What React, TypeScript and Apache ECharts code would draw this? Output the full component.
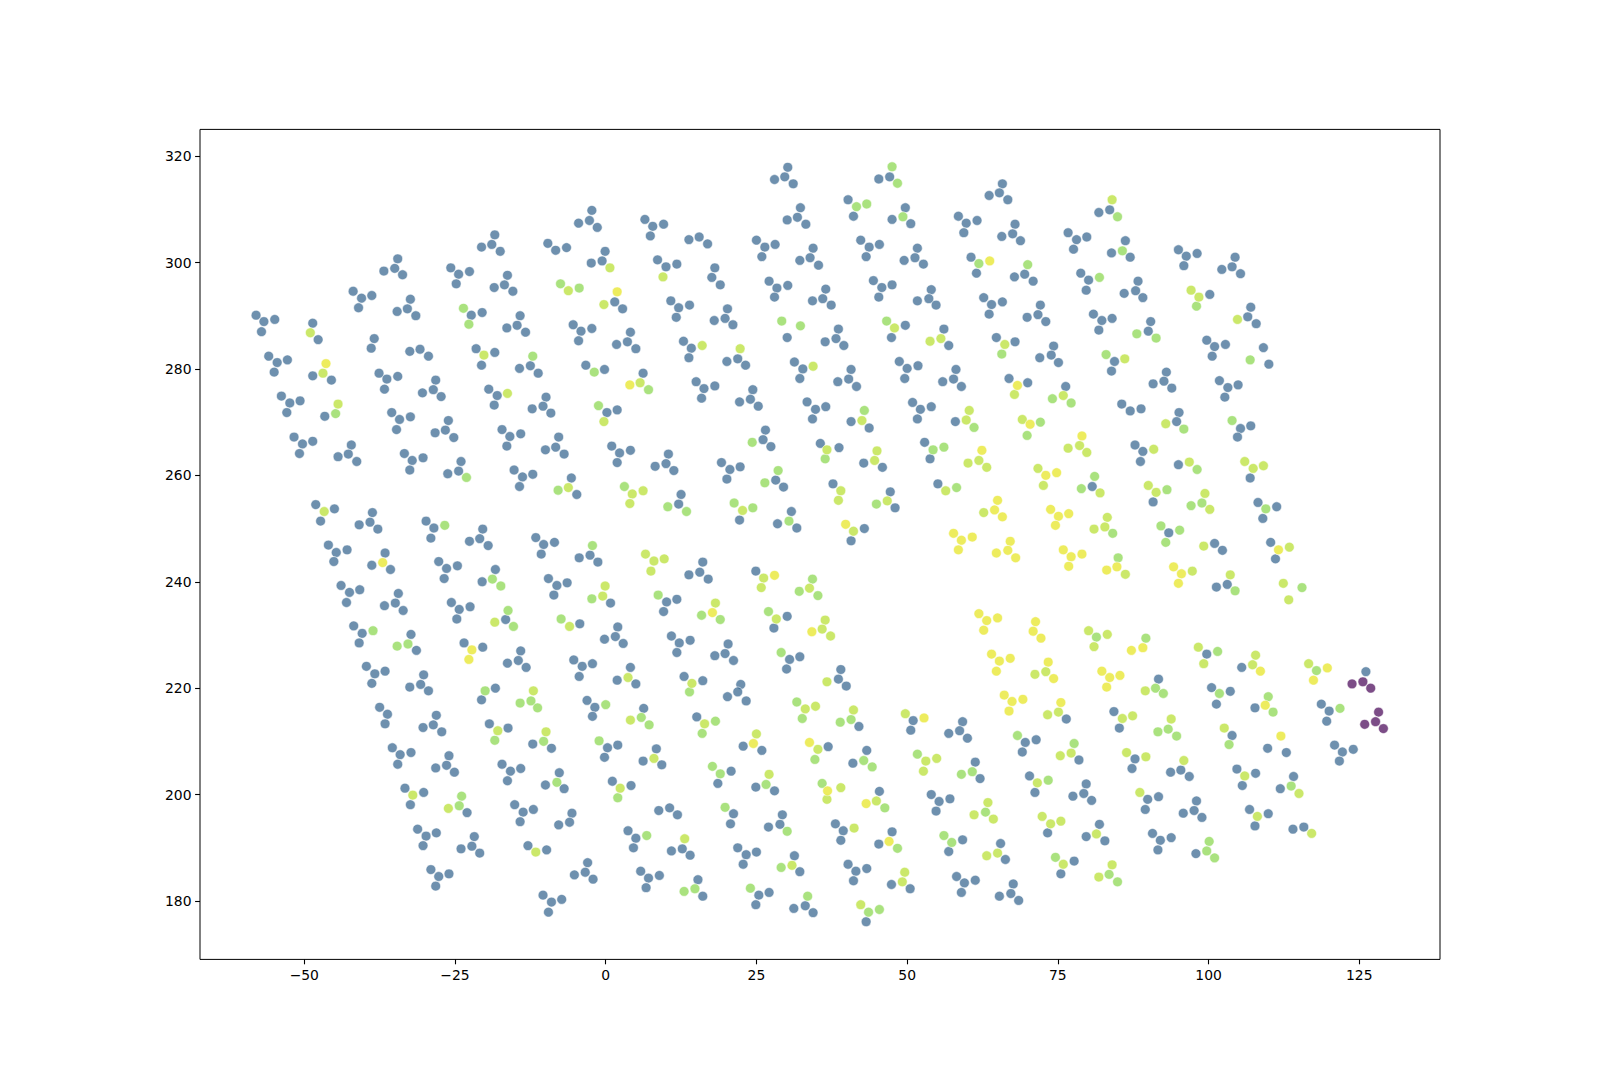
import React, { useEffect, useRef } from "react";
import * as echarts from "echarts";

const xTicks = [-50, -25, 0, 25, 50, 75, 100, 125];
const yTicks = [180, 200, 220, 240, 260, 280, 300, 320];

const bluePoints: number[][] = [
  [-18.4,305.2],[-18.9,303.4],[-20.6,302.9],[-17.5,302.1],
  [-34.5,300.7],[-35.0,298.9],[-36.8,298.4],[-33.7,297.7],
  [-25.7,299.0],[-24.4,297.8],[-22.6,298.3],[-24.8,296.0],
  [-16.3,297.6],[-16.8,295.8],[-18.5,295.3],[-15.4,294.6],
  [-41.9,294.6],[-40.5,293.3],[-38.8,293.8],[-41.0,291.5],
  [-32.4,293.1],[-32.9,291.3],[-34.6,290.8],[-31.5,290.0],
  [-22.3,290.1],[-20.5,290.6],
  [-14.2,290.0],[-14.7,288.2],[-16.4,287.7],[-13.3,286.9],
  [-58.0,290.1],[-56.7,288.9],[-54.9,289.3],[-57.1,287.0],
  [-48.6,288.6],[-47.7,285.5],
  [-38.4,285.7],[-38.9,283.9],
  [-32.5,283.3],[-30.8,283.7],[-29.4,282.4],
  [-21.5,283.8],[-18.4,283.1],[-20.6,280.7],
  [-12.5,280.6],[-14.3,280.1],[-11.2,279.2],
  [-55.9,282.4],[-54.5,281.2],[-52.8,281.7],[-55.0,279.4],
  [-48.6,278.7],[-45.5,277.9],
  [-37.6,279.2],[-36.3,278.1],[-34.5,278.6],[-36.7,276.2],
  [-28.2,277.9],[-28.6,276.1],[-30.4,275.5],[-27.3,274.8],
  [-19.4,276.2],[-18.0,275.0],[-18.5,273.2],
  [-53.8,274.9],[-52.4,273.6],[-50.7,274.0],[-52.9,271.8],
  [-46.6,271.1],
  [-35.5,271.8],[-34.2,270.5],[-32.4,271.0],
  [-26.1,270.3],
  [-12.2,272.5],
  [30.2,317.9],[29.7,316.1],[28.0,315.6],[31.1,314.8],
  [-2.3,309.8],[-2.7,307.9],[-4.5,307.4],[-1.4,306.6],
  [6.5,308.1],[7.8,306.8],[9.6,307.2],[7.4,305.0],
  [32.3,310.3],[31.8,308.5],[30.1,308.0],[33.2,307.2],
  [-9.6,303.6],[-8.3,302.3],[-6.5,302.8],
  [13.8,304.3],[15.5,304.8],[16.9,303.5],
  [25.0,304.2],[26.4,302.9],[28.1,303.4],[25.9,301.1],
  [-0.1,302.1],[-0.6,300.3],[-2.4,299.9],
  [8.6,300.5],[10.0,299.2],[11.8,299.7],
  [18.1,299.0],[17.6,297.2],[19.0,295.8],
  [34.4,302.7],[33.9,300.9],[32.2,300.4],[35.3,299.5],
  [1.5,292.6],[2.8,291.3],
  [27.1,296.5],[28.4,295.2],[30.2,295.7],[28.0,293.5],
  [36.5,295.0],[36.0,293.2],[34.3,292.8],
  [10.8,292.8],[12.1,291.5],[13.9,292.0],[11.7,289.7],
  [20.2,291.3],[19.8,289.5],[18.0,289.1],[21.1,288.3],
  [-5.4,288.3],[-4.1,287.1],[-2.3,287.6],[-4.5,285.3],
  [4.1,286.9],[3.6,285.1],[1.8,284.6],[5.0,283.8],
  [12.9,285.2],[14.2,283.9],[13.8,282.1],
  [21.9,281.9],[20.1,281.4],[23.2,280.7],
  [30.1,285.9],
  [31.3,281.3],[32.7,280.0],[32.2,278.2],
  [36.4,285.1],
  [-3.3,280.7],[-0.2,279.9],
  [6.2,279.2],
  [15.0,277.6],[16.3,276.3],[18.1,276.8],[15.9,274.5],
  [24.4,276.1],[24.0,274.3],[22.2,273.8],[25.3,273.0],
  [-9.9,274.7],[-10.4,273.0],[-9.1,271.7],
  [0.2,271.8],[1.9,272.3],
  [33.4,273.8],[34.8,272.4],[36.5,272.9],[34.3,270.6],
  [47.1,316.1],[45.3,315.7],
  [40.2,311.8],[41.1,308.7],
  [49.7,310.3],[47.5,308.1],[50.6,307.3],
  [65.8,314.8],[65.3,313.1],[63.6,312.6],[66.7,311.8],
  [83.6,309.9],[81.8,309.4],
  [58.5,308.7],[59.8,307.4],[61.6,307.9],[59.4,305.6],
  [67.9,307.2],[67.5,305.4],[65.7,304.9],[68.8,304.1],
  [76.7,305.6],[78.1,304.3],[79.8,304.8],[77.6,302.5],
  [83.9,301.8],
  [42.3,304.2],[43.7,302.9],[45.4,303.4],[43.2,301.1],
  [51.7,302.7],[51.3,300.9],[49.5,300.4],[52.7,299.7],
  [60.6,301.0],[61.5,298.0],
  [69.5,297.8],[67.8,297.3],[70.9,296.5],
  [78.8,298.0],[80.1,296.7],[79.7,294.8],
  [44.4,296.6],[45.8,295.3],[47.5,295.8],[45.3,293.5],
  [54.0,294.9],[53.6,293.2],[51.7,292.8],[54.8,292.0],
  [37.4,292.0],
  [62.7,293.4],[64.0,292.1],[65.8,292.6],[63.6,290.3],
  [72.1,292.0],[71.7,290.2],[69.9,289.7],[73.0,288.9],
  [80.9,290.3],[82.3,289.1],[84.0,289.5],[81.8,287.3],
  [49.7,288.2],[47.4,285.9],
  [56.1,287.5],[56.9,284.4],
  [38.6,287.5],[38.2,285.7],[39.5,284.4],
  [64.8,285.9],[67.9,285.1],
  [74.3,284.3],[73.9,282.6],[72.0,282.1],[75.1,281.2],
  [84.4,281.4],[83.9,279.6],
  [40.7,279.9],[40.3,278.1],[38.5,277.6],[41.6,276.7],
  [48.7,281.4],[50.0,280.1],[51.8,280.6],[49.6,278.2],
  [58.1,279.9],[57.7,278.1],[55.9,277.6],[59.0,276.7],
  [66.9,278.2],[70.0,277.4],
  [76.3,276.7],
  [50.9,273.7],[52.2,272.4],[54.0,272.9],[51.7,270.6],
  [40.7,270.1],
  [58.0,270.1],
  [86.2,304.1],[87.0,301.0],
  [95.0,302.4],[96.3,301.2],[98.1,301.7],[95.9,299.4],
  [104.4,301.0],[103.9,299.2],[102.2,298.7],[105.3,297.9],
  [88.3,296.5],[87.9,294.7],[86.0,294.2],[89.1,293.4],
  [100.2,294.0],
  [107.0,291.6],[106.5,289.8],[107.9,288.5],
  [90.4,288.9],[90.0,287.1],
  [99.7,285.4],[101.0,284.2],[102.8,284.6],[100.6,282.4],
  [109.1,284.0],[110.0,280.9],
  [93.0,279.4],[92.6,277.7],[90.8,277.2],[93.9,276.4],
  [101.8,277.8],[103.2,276.5],[104.9,277.0],[102.7,274.7],
  [85.6,273.4],[87.0,272.1],[88.8,272.5],
  [95.1,271.8],[94.7,270.1],
  [-34.7,268.6],
  [-28.3,268.0],[-26.6,268.5],[-25.2,267.1],
  [-17.2,268.6],[-15.9,267.3],[-14.1,267.8],[-16.4,265.5],
  [-51.7,267.2],[-50.3,265.9],[-48.6,266.4],[-50.8,264.1],
  [-42.2,265.7],[-42.7,264.0],[-44.4,263.5],[-41.3,262.6],
  [-33.4,264.1],[-32.1,262.8],[-30.3,263.3],[-32.5,261.0],
  [-24.0,262.6],[-24.4,260.8],[-26.2,260.3],
  [-15.2,261.0],[-13.8,259.7],[-12.1,260.2],[-14.3,257.9],
  [-48.1,254.5],[-45.0,253.7],[-47.3,251.4],
  [-38.7,253.0],[-39.1,251.2],[-40.9,250.7],[-37.8,249.9],
  [-29.8,251.4],[-28.5,250.1],[-29.0,248.2],
  [-20.4,249.9],[-20.9,248.1],[-22.6,247.6],[-19.5,246.8],
  [-11.6,248.3],
  [-46.0,246.9],[-44.7,245.5],[-42.9,246.0],[-45.1,243.8],
  [-36.6,245.4],[-38.8,243.1],[-35.7,242.3],
  [-27.7,243.8],[-26.4,242.5],[-24.6,243.0],[-26.8,240.6],
  [-18.3,242.3],[-20.5,240.0],
  [-43.9,239.3],[-42.5,238.0],[-40.8,238.5],[-43.0,236.1],
  [-34.4,237.8],[-34.9,236.0],[-36.7,235.5],[-33.6,234.6],
  [-25.6,236.1],[-24.3,234.8],[-22.5,235.3],[-24.7,233.0],
  [-16.6,232.9],
  [-41.8,231.7],[-40.4,230.3],[-40.9,228.5],
  [-32.3,230.1],[-31.4,227.1],
  [-23.5,228.5],[-20.4,227.7],
  [-14.1,227.0],[-14.5,225.2],[-16.3,224.7],[-13.2,223.9],
  [-39.7,224.1],[-38.3,222.7],[-36.6,223.2],[-38.8,220.9],
  [-30.2,222.5],[-30.7,220.7],[-32.5,220.2],[-29.4,219.5],
  [-18.3,220.0],
  [-7.8,267.2],[-8.3,265.3],[-10.0,264.8],[-6.9,264.0],
  [1.0,265.5],[2.3,264.2],[4.1,264.7],[1.9,262.4],
  [10.4,264.0],[10.0,262.2],[8.2,261.7],[11.3,260.9],
  [19.2,262.4],[20.6,261.1],[22.3,261.6],[20.1,259.3],
  [26.5,268.5],[26.1,266.7],[27.4,265.4],
  [35.6,266.0],
  [-5.7,259.5],[-4.8,256.4],
  [12.5,256.4],[12.1,254.6],
  [28.2,259.1],[29.5,257.8],
  [22.2,251.6],
  [30.8,253.2],[28.5,250.9],[31.7,250.1],
  [-10.3,247.0],[-8.5,247.4],[-10.7,245.2],
  [-2.6,245.0],[-4.4,244.5],[-1.3,243.7],
  [16.1,243.7],[15.6,241.8],[13.8,241.3],[17.0,240.5],
  [24.9,242.0],
  [-9.5,240.6],[-8.1,239.3],[-6.4,239.8],[-8.6,237.5],
  [0.8,236.0],
  [10.1,236.2],[11.8,236.7],[9.6,234.4],
  [30.1,233.5],[27.9,231.3],
  [-4.3,232.1],
  [2.0,231.5],[1.6,229.7],[-0.2,229.2],[2.9,228.4],
  [10.9,229.8],[12.2,228.5],[14.0,229.0],[11.8,226.7],
  [20.3,228.3],[19.8,226.5],[18.1,226.1],[21.2,225.2],
  [30.5,225.4],[32.2,225.9],[30.0,223.6],
  [-5.3,225.3],[-3.9,224.1],[-2.2,224.6],[-4.4,222.2],
  [4.1,223.9],[1.9,221.5],[5.0,220.8],
  [13.0,222.2],[16.1,221.4],
  [22.4,220.7],[21.9,219.3],
  [43.7,268.9],
  [38.7,265.2],
  [42.8,262.3],[45.9,261.5],
  [52.9,266.2],[53.8,263.1],
  [37.7,258.4],
  [47.2,256.9],[48.0,253.9],
  [55.1,258.4],
  [80.7,257.9],
  [42.9,250.0],[40.7,247.7],
  [39.0,223.5],[38.6,221.7],[39.9,220.4],
  [105.3,268.8],[107.0,269.3],[104.8,267.2],
  [87.8,265.7],[89.1,264.5],[88.7,262.6],
  [95.0,262.0],
  [106.9,259.5],
  [90.8,255.0],
  [108.2,254.9],[111.3,254.1],[109.0,251.9],
  [93.4,249.2],
  [101.0,247.2],[102.3,245.9],
  [110.3,247.4],[111.1,244.3],
  [103.1,239.5],[101.3,239.0],
  [99.7,226.4],
  [105.5,223.9],
  [126.1,223.1],
  [91.7,221.7],
  [100.5,220.1],[103.6,219.4],
  [-20.6,217.8],
  [-37.5,216.4],[-36.2,215.1],[-36.6,213.3],
  [-28.1,214.9],[-28.6,213.1],[-30.3,212.6],[-27.2,211.8],
  [-19.3,213.3],[-16.2,212.5],
  [-12.1,209.5],
  [-35.4,208.8],[-34.1,207.5],[-32.3,207.9],[-34.5,205.7],
  [-26.0,207.3],[-26.4,205.5],[-28.2,205.0],[-25.1,204.2],
  [-17.2,205.7],[-15.8,204.4],[-14.1,204.9],[-16.3,202.6],
  [-33.3,201.2],[-30.2,200.4],[-32.4,198.1],
  [-23.0,196.6],
  [-15.1,198.1],[-13.7,196.7],[-12.0,197.2],[-14.2,194.9],
  [-31.2,193.5],[-29.8,192.2],[-28.1,192.8],[-30.3,190.4],
  [-21.8,192.1],[-22.2,190.3],[-24.0,189.8],[-20.9,189.0],
  [-12.9,190.4],
  [-29.0,185.9],[-27.7,184.6],[-26.0,185.1],[-28.2,182.8],
  [-3.1,217.7],[-1.8,216.4],[-2.2,214.7],
  [6.3,216.2],
  [15.1,214.6],
  [20.2,218.4],[23.3,217.6],
  [-9.0,208.7],
  [0.3,208.8],[2.0,209.3],[-0.2,207.0],
  [8.4,208.6],[6.2,206.3],[9.3,205.6],
  [22.8,209.1],[25.9,208.3],
  [36.9,209.0],
  [-7.7,204.1],[-10.0,201.8],[-6.9,201.1],
  [1.1,202.5],[4.2,201.7],
  [20.8,204.4],[18.6,202.1],
  [24.9,201.4],[28.0,200.7],
  [-5.6,196.5],[-6.0,194.8],[-7.8,194.3],
  [8.8,197.0],[10.6,197.5],[11.9,196.2],
  [21.2,196.4],[20.7,194.5],
  [29.3,196.2],[28.9,194.4],[27.0,193.9],
  [3.7,193.2],[5.0,191.8],[4.6,190.0],
  [12.7,189.8],[10.9,189.4],[14.0,188.6],
  [21.9,190.0],[23.3,188.7],[25.0,189.2],[22.8,186.9],
  [31.3,188.5],[32.2,185.5],
  [-9.8,189.6],
  [-3.0,187.2],[-3.4,185.4],[-5.2,184.9],[-2.1,184.1],
  [5.8,185.6],[7.1,184.3],[8.9,184.8],[6.7,182.5],
  [15.3,184.0],[16.1,180.9],
  [25.4,181.1],[27.1,181.6],[24.9,179.3],
  [33.1,179.1],[31.2,178.6],[34.4,177.8],
  [-10.4,181.1],[-9.0,179.8],[-7.3,180.3],[-9.5,177.9],
  [42.0,212.8],
  [51.0,213.9],[50.6,212.1],
  [59.2,213.7],[58.7,212.0],[56.9,211.5],[60.0,210.6],
  [76.4,214.2],
  [84.3,215.6],
  [43.3,208.3],[41.0,205.9],
  [61.3,206.1],[62.1,203.0],
  [69.6,209.8],[71.4,210.3],[69.1,208.0],
  [78.5,206.5],
  [45.4,200.6],
  [54.0,200.0],[55.3,198.7],[57.1,199.2],[54.8,196.9],
  [70.3,203.5],[71.2,200.4],
  [79.7,202.0],[79.3,200.2],[77.5,199.7],[80.6,198.9],
  [38.1,194.5],[39.4,193.2],[39.0,191.4],
  [47.5,193.0],[45.3,190.7],
  [59.2,191.5],[56.9,189.3],
  [65.5,190.8],[66.3,187.8],
  [73.3,192.8],
  [81.9,194.4],[79.7,192.1],[82.8,191.3],
  [40.2,186.9],[41.5,185.6],[43.3,186.1],[41.1,183.8],
  [47.4,183.1],[50.5,182.3],
  [58.2,184.6],[59.5,183.4],[61.3,183.9],[59.0,181.6],
  [67.6,183.2],[67.2,181.4],[65.3,180.9],[68.5,180.1],
  [77.7,187.5],[75.5,185.1],
  [43.2,176.1],
  [101.3,217.0],[107.7,216.3],
  [85.2,212.5],
  [103.9,211.1],
  [118.7,217.0],[120.0,215.7],[119.6,213.8],
  [109.8,208.7],[112.9,207.9],
  [120.9,209.3],[122.2,208.0],[124.0,208.5],[121.7,206.3],
  [87.8,206.7],[87.3,204.9],
  [95.4,204.6],[93.7,204.2],[96.8,203.4],
  [104.7,204.8],[107.8,204.0],[105.6,201.7],
  [114.1,203.4],[111.9,201.1],
  [89.9,199.1],[91.7,199.6],[89.5,197.2],
  [98.0,198.8],[97.6,197.0],[95.8,196.5],[98.9,195.7],
  [106.8,197.2],[109.9,196.4],[107.7,194.1],
  [114.0,193.5],[115.8,193.9],
  [90.7,192.7],[92.0,191.4],[93.8,191.9],[91.6,189.6],
  [97.9,188.9],
];

const greenPoints: number[][] = [
  [-23.6,291.4],[-22.7,288.4],[-12.1,282.4],[-44.8,271.6],
  [-7.5,296.0],[-4.4,295.2],[29.2,289.0],[32.3,288.1],[-1.9,279.4],[7.1,276.1],[-1.2,273.1],
  [47.5,318.0],[48.4,314.9],[41.6,310.5],[43.3,311.0],[49.3,308.6],[84.9,308.6],[61.9,299.8],[70.0,299.6],
  [81.9,297.2],[46.6,289.0],[65.7,282.8],[83.0,282.7],[74.1,274.4],[77.2,273.6],[42.9,272.2],[72.1,270.0],
  [85.7,302.2],[98.0,291.8],[88.1,286.6],[91.3,285.8],[106.9,281.7],[103.9,270.3],
  [-23.1,259.6],[-26.7,250.6],[-18.8,240.5],[-17.4,239.2],[-16.2,234.6],[-15.3,231.6],[-38.6,230.8],
  [-32.8,228.3],[-34.6,227.9],[-20.0,219.5],
  [24.3,266.2],[36.4,263.1],[-7.9,257.2],[3.1,257.9],[10.3,254.1],[13.4,253.2],[28.6,260.9],[26.4,258.6],
  [21.3,254.8],[24.4,253.9],[30.4,251.4],[-2.2,246.8],[34.3,240.5],[32.1,238.2],[35.2,237.4],[-2.3,236.8],
  [8.7,237.5],[15.9,233.7],[19.0,232.9],[27.0,234.4],[-7.4,233.0],[29.1,226.7],[13.9,219.3],
  [61.1,269.0],[69.9,267.5],
  [54.3,264.8],[56.1,265.3],[44.9,254.6],[58.2,257.7],[81.1,259.8],[78.9,257.5],[84.1,249.1],[85.0,244.5],[81.4,229.6],
  [95.9,268.7],[98.1,261.1],[93.1,257.3],[98.9,254.8],[97.1,254.3],[109.5,253.7],[92.1,250.5],[95.2,249.7],
  [92.9,247.4],[104.4,238.3],[115.5,238.9],[89.6,229.4],[101.5,226.9],[117.9,223.3],[91.2,220.0],[92.5,219.0],[101.8,219.0],
  [-14.2,217.2],[-12.4,217.6],[-11.3,216.3],[-18.4,210.2],[-23.9,199.7],[-24.3,197.9],
  [0.0,216.9],[5.9,214.5],[7.2,213.1],[18.2,213.8],[16.0,211.5],[31.7,217.4],[32.6,214.3],[-10.3,210.0],
  [-1.1,210.1],[34.7,206.6],[-8.1,202.3],[2.0,199.4],[17.7,205.3],[19.0,203.9],[26.6,201.9],[35.9,202.1],
  [19.8,197.6],[30.1,193.1],[6.8,192.3],[29.1,186.3],[14.8,182.3],[13.0,181.8],[24.0,182.4],[33.5,180.9],
  [40.7,214.1],[38.9,213.6],[42.8,206.4],[44.2,205.2],[51.7,207.6],[60.8,204.3],[59.0,203.8],[68.3,211.1],
  [77.7,209.6],[46.3,197.5],[63.0,196.7],[73.4,202.7],[48.4,189.9],[56.1,192.3],[57.4,191.0],[74.6,188.2],
  [83.5,185.0],[84.9,183.6],[43.6,177.9],[45.4,178.4],
  [109.9,218.4],[110.7,215.5],[93.3,212.3],[91.6,211.8],[94.7,211.0],[103.4,209.4],[121.8,216.2],[113.7,201.6],
  [100.1,191.2],[99.7,189.4],[101.0,188.1],
];

const limePoints: number[][] = [
  [-49.0,286.8],[-20.2,282.6],[-46.9,279.2],[-16.3,275.4],[-44.4,273.4],
  [0.7,299.0],[9.5,297.3],[-6.2,294.7],[-0.3,292.1],[16.0,284.4],[22.3,283.8],[34.4,280.5],[5.7,277.4],[-0.3,270.1],
  [84.0,311.8],[47.9,287.7],[55.6,285.7],[53.8,285.2],[66.2,284.6],[67.8,275.2],[75.9,275.0],[42.5,270.3],
  [60.3,272.2],[59.8,270.4],[69.1,270.5],
  [97.1,294.8],[98.4,293.5],[104.8,289.3],[86.1,281.9],[92.9,269.7],
  [-46.7,253.2],[-18.4,232.4],[-12.0,219.5],
  [36.7,264.8],[-6.2,257.7],[4.4,256.5],[6.2,257.1],[4.0,254.7],[22.7,253.4],[6.6,245.2],[8.0,243.9],
  [9.7,244.3],[7.5,242.0],[26.2,240.7],[25.8,238.9],[33.8,238.8],[-0.1,239.2],[-0.5,237.3],[18.2,236.0],
  [28.3,233.0],[36.4,232.8],[35.9,231.1],[-6.0,231.6],[3.7,222.0],[14.3,220.9],[36.7,221.2],
  [45.0,264.6],[44.6,262.8],[61.9,262.8],[60.1,262.3],[63.2,261.5],[78.6,265.6],[76.7,265.1],[79.8,264.3],
  [39.0,257.1],[38.6,255.3],[46.7,255.2],[56.4,257.1],[71.7,261.3],[72.6,258.1],[82.0,256.7],[62.7,253.0],
  [83.2,252.1],[82.8,250.3],[81.0,249.9],[41.1,249.5],[37.3,229.8],[80.1,230.8],[83.2,230.1],[81.0,227.8],
  [73.0,223.1],[71.2,222.6],
  [90.9,264.9],[96.8,262.5],[106.0,262.6],[107.4,261.3],[109.1,261.8],[90.0,258.1],[91.3,256.8],[99.4,256.6],
  [100.2,253.6],[99.2,246.7],[113.4,246.5],[86.2,241.4],[97.3,242.0],[103.6,241.3],[112.4,239.7],[113.3,236.6],
  [98.3,227.7],[99.2,224.6],[107.8,226.2],[107.3,224.4],[116.6,224.6],[89.5,219.5],
  [-17.9,212.0],[-32.0,199.9],[-26.1,197.4],[-11.6,189.2],
  [4.1,214.0],[16.4,213.3],[33.1,216.1],[34.8,216.6],[-9.9,211.8],[8.0,206.8],[25.0,211.4],[35.2,208.5],
  [2.4,201.2],[27.1,203.8],[36.7,199.1],[13.1,191.7],[30.9,186.7],
  [41.1,215.9],[49.7,215.2],[75.1,215.5],[73.3,215.0],[77.2,207.8],[75.4,207.3],[53.1,206.3],[54.9,206.8],
  [52.7,204.4],[39.0,201.3],[44.9,198.8],[63.4,198.5],[61.1,196.2],[64.3,195.4],[71.6,202.2],[41.2,193.7],
  [65.0,189.0],[63.2,188.5],[72.4,195.9],[73.8,194.5],[75.5,195.0],[81.4,192.6],[49.6,185.4],[49.2,183.6],
  [75.9,186.9],[84.0,186.8],[81.8,184.5],[42.3,179.3],
  [85.7,214.3],[87.4,214.8],[93.8,214.2],[102.6,212.5],[86.4,207.9],[89.6,207.1],[95.9,206.4],[106.0,203.5],
  [115.0,200.2],[88.6,200.4],[108.1,195.9],[117.1,192.7],
];

const yellowPoints: number[][] = [
  [-46.4,281.0],
  [1.9,294.5],[4.0,277.0],
  [63.7,300.3],[68.3,276.9],[70.4,269.6],
  [-37.0,243.6],[-22.2,227.2],[-22.7,225.4],
  [28.0,241.2],[17.7,234.2],[34.2,230.6],
  [62.4,264.7],[79.0,267.4],[73.0,260.0],[74.8,260.5],[65.0,255.3],[64.5,253.5],[65.8,252.2],[73.8,253.6],
  [75.1,252.3],[76.8,252.8],[74.6,250.6],[39.8,250.8],[57.7,249.1],[59.0,247.8],[60.8,248.4],[58.5,246.0],
  [67.1,247.6],[66.7,245.9],[64.8,245.4],[68.0,244.5],[75.9,246.0],[77.2,244.7],[79.0,245.2],[76.8,242.9],
  [84.8,242.8],[83.1,242.2],[61.9,234.0],[63.2,232.7],[65.0,233.2],[62.7,230.9],[71.3,232.5],[70.9,230.7],
  [72.2,229.4],[64.0,226.4],[65.3,225.1],[67.1,225.6],[64.8,223.2],[73.4,224.9],[74.3,221.8],[82.3,223.2],
  [83.6,222.0],[83.1,220.2],
  [111.6,246.0],[94.2,242.8],[95.5,241.5],[95.0,239.7],[89.1,227.6],[87.2,227.1],[108.6,223.2],[119.7,223.8],
  [117.4,221.5],[85.3,222.4],
  [24.5,209.6],[33.8,209.8],[36.8,200.7],
  [66.1,218.7],[67.4,217.5],[69.2,217.9],[66.9,215.7],[52.8,214.4],[75.5,217.3],[43.2,198.3],[47.0,191.2],
  [109.4,216.8],[112.0,211.0],
];

const purplePoints: number[][] = [
  [125.6,221.2],[123.8,220.8],[126.9,220.0],
  [128.2,215.5],[127.7,213.7],[125.9,213.2],[129.0,212.4],
];

const groups = [
  { name: "c1", data: bluePoints, color: "#30618c" },
  { name: "c2", data: greenPoints, color: "#86d549" },
  { name: "c3", data: limePoints, color: "#b5de2b" },
  { name: "c4", data: yellowPoints, color: "#e5e419" },
  { name: "c5", data: purplePoints, color: "#440154" },
];

export default function App() {
  const ref = useRef<HTMLDivElement>(null);
  useEffect(() => {
    if (!ref.current) return;
    const chart = echarts.init(ref.current, null, { renderer: "svg" });
    const fmt = (v: number) => String(v).replace("-", "\u2212");
    const labelStyle = {
      fontSize: 13.9,
      color: "#000",
      fontFamily: "DejaVu Sans",
    };
    const tick = (values: number[]) => ({
      show: true,
      customValues: values,
      length: 4.9,
      lineStyle: { color: "#000", width: 1.1 },
    });
    chart.setOption({
      animation: false,
      backgroundColor: "#ffffff",
      grid: {
        left: 200,
        top: 129.4,
        width: 1240,
        height: 830,
        show: true,
        borderColor: "#000",
        borderWidth: 1,
        backgroundColor: "transparent",
      },
      xAxis: {
        type: "value",
        position: "bottom",
        min: -67.3,
        max: 138.39,
        splitLine: { show: false },
        axisLine: { show: false, onZero: false },
        axisTick: tick(xTicks),
        axisLabel: { ...labelStyle, customValues: xTicks, formatter: fmt, margin: 8.5 },
      },
      yAxis: {
        type: "value",
        position: "left",
        min: 169.02,
        max: 325.02,
        splitLine: { show: false },
        axisLine: { show: false, onZero: false },
        axisTick: tick(yTicks),
        axisLabel: { ...labelStyle, customValues: yTicks, formatter: fmt, margin: 8.5 },
      },
      series: groups.map((g) => ({
        type: "scatter",
        name: g.name,
        data: g.data,
        symbol: "circle",
        symbolSize: 9.8,
        clip: false,
        silent: true,
        itemStyle: {
          color: g.color,
          opacity: 0.7,
          borderColor: "#ffffff",
          borderWidth: 0.8,
        },
      })),
    });
    return () => chart.dispose();
  }, []);
  return (
    <div
      ref={ref}
      style={{ position: "absolute", left: 0, top: 0, width: 1600, height: 1078 }}
    />
  );
}
